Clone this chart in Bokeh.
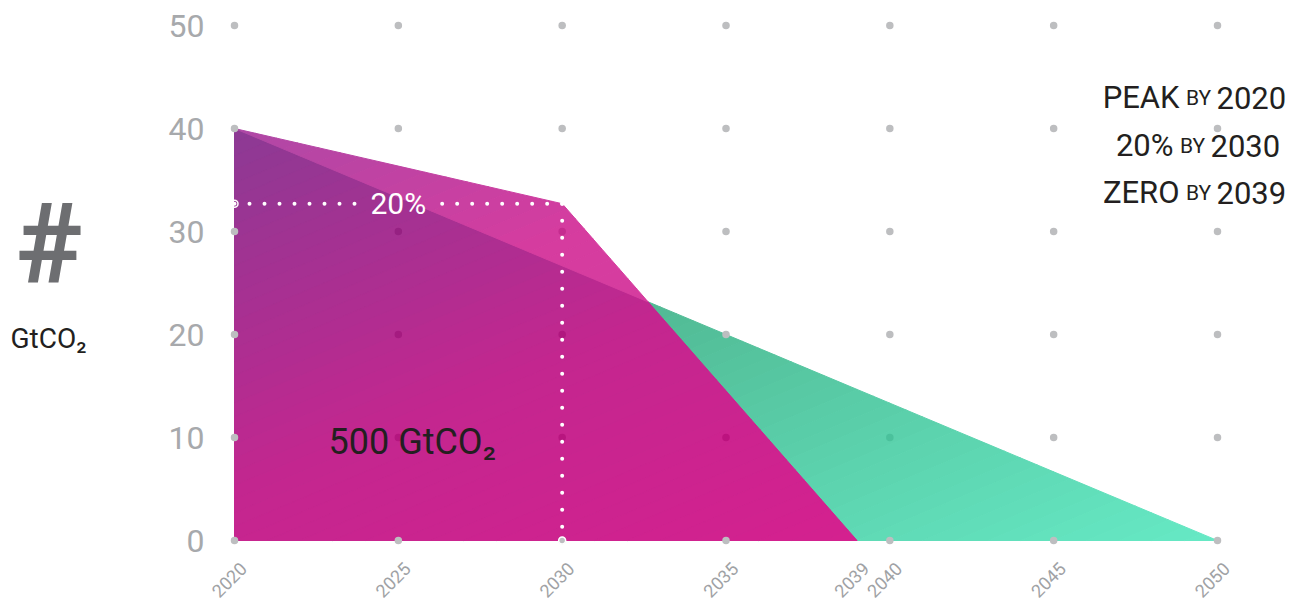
import math
from bokeh.plotting import figure
from bokeh.models import Range1d
from bokeh.core.properties import value
from bokeh.embed import file_html
from bokeh.resources import INLINE

# ---------------- data ----------------
path_years = [2020, 2030, 2039]          # magenta pathway
path_values = [40, 32.7, 0]              # GtCO2
budget_years = [2020, 2050]              # green budget triangle
budget_values = [40, 0]
x_ticks = [2020, 2025, 2030, 2035, 2039, 2040, 2045, 2050]
x_tick_labels = [str(v) for v in x_ticks]
grid_x = [2020, 2025, 2030, 2035, 2040, 2045, 2050]
y_ticks = [0, 10, 20, 30, 40, 50]
y_tick_labels = [str(v) for v in y_ticks]
pct_label = "20%"
budget_label = "500 GtCO₂"
unit_label = "GtCO₂"
side_words = ["PEAK", "20%", "ZERO"]
side_by = ["BY", "BY", "BY"]
side_years = ["2020", "2030", "2039"]

FONT = value("Roboto")
GREY = "#A7A9AC"
DARK = "#231F20"

W, H = 1297, 605
# picture-pixel layout: 2020 -> x=234, 2050 -> x=1217 ; 0 -> y=540, 50 -> y=25
PXX = (1217 - 234) / 30.0
PXY = (540 - 25) / 50.0
x0 = 2020 - 234 / PXX
x1 = 2020 + (W - 234) / PXX
y0 = -(H - 540) / PXY
y1 = 540 / PXY

p = figure(width=W, height=H, output_backend="svg", toolbar_location=None,
           x_range=Range1d(x0, x1), y_range=Range1d(y0, y1),
           min_border_left=0, min_border_right=0, min_border_top=0, min_border_bottom=0)
p.outline_line_color = None
p.xgrid.visible = False
p.ygrid.visible = False
p.axis.visible = False
p.background_fill_color = "white"

def X(px):
    return 2020 + (px - 234) / PXX
def Y(py):
    return (540 - py) / PXY

# ---------------- gradient fills ----------------
xa, xb = budget_years[0], budget_years[-1]
ytop = budget_values[0]

def clip(poly, a, b, c):
    out = []
    n = len(poly)
    for i in range(n):
        P = poly[i]; Q = poly[(i + 1) % n]
        fp = a * P[0] + b * P[1] + c
        fq = a * Q[0] + b * Q[1] + c
        if fp >= 0:
            out.append(P)
        if (fp >= 0) != (fq >= 0):
            s = fp / (fp - fq)
            out.append((P[0] + s * (Q[0] - P[0]), P[1] + s * (Q[1] - P[1])))
    res = []
    for pt in out:
        if not res or math.hypot(pt[0] - res[-1][0], pt[1] - res[-1][1]) > 1e-9:
            res.append(pt)
    if len(res) > 1 and math.hypot(res[0][0] - res[-1][0], res[0][1] - res[-1][1]) <= 1e-9:
        res.pop()
    return res

def band(poly, t0, t1):
    a = 1.0 / (2 * (xb - xa)); b = -1.0 / (2 * ytop); c = -xa * a + 0.5
    q = clip(poly, a, b, c - t0)
    if len(q) < 3:
        return []
    return clip(q, -a, -b, -(c - t1))

def hexrgb(h):
    h = h.lstrip("#"); return [int(h[i:i + 2], 16) for i in (0, 2, 4)]

def ramp(stops, t):
    if t <= stops[0][0]:
        return hexrgb(stops[0][1])
    for (ta, ca), (tb, cb) in zip(stops[:-1], stops[1:]):
        if t <= tb:
            u = (t - ta) / (tb - ta)
            A, B = hexrgb(ca), hexrgb(cb)
            return [A[k] + (B[k] - A[k]) * u for k in range(3)]
    return hexrgb(stops[-1][1])

def tohex(c):
    return "#%02x%02x%02x" % tuple(max(0, min(255, int(round(v)))) for v in c)

green_stops = [(0.0, "#3FA482"), (0.4, "#50B892"), (1.0, "#66E9C5")]
mag_green_stops = [(0.0, "#8C3A94"), (0.45, "#C4268F"), (0.85, "#D6208F")]
mag_white_stops = [(0.0, "#AE48A6"), (0.3, "#D63C9F")]

green_poly = [(budget_years[0], 0), (budget_years[0], budget_values[0]), (budget_years[1], budget_values[1])]
mag_poly = [(path_years[0], 0)] + list(zip(path_years, path_values))

slope = (budget_values[1] - budget_values[0]) / (budget_years[1] - budget_years[0])
mag_in_green = clip(mag_poly, slope, -1, budget_values[0] - slope * xa)
mag_out_green = clip(mag_poly, -slope, 1, -(budget_values[0] - slope * xa))

N = 60
def draw_gradient(poly, stops):
    xs, ys, cols = [], [], []
    for i in range(N):
        t0, t1 = i / N, (i + 1) / N
        q = band(poly, t0, t1)
        if len(q) >= 3:
            xs.append([v[0] for v in q]); ys.append([v[1] for v in q])
            cols.append(tohex(ramp(stops, (t0 + t1) / 2)))
    p.patches(xs, ys, fill_color=cols, line_color=cols, line_width=1)

draw_gradient(green_poly, green_stops)
draw_gradient(mag_in_green, mag_green_stops)
draw_gradient(mag_out_green, mag_white_stops)

# ---------------- grid dots ----------------
def tpar(x, y):
    return ((x - xa) / (xb - xa) + (ytop - y) / ytop) / 2

def inside(poly, x, y, eps=0.3):
    n = len(poly); sgn = None
    if n < 3:
        return False
    for i in range(n):
        P = poly[i]; Q = poly[(i + 1) % n]
        L = math.hypot(Q[0] - P[0], Q[1] - P[1])
        if L < 1e-9:
            continue
        cr = (Q[0] - P[0]) * (y - P[1]) - (Q[1] - P[1]) * (x - P[0])
        d = cr / L
        if abs(d) < eps:
            return False
        s = d > 0
        if sgn is None:
            sgn = s
        elif s != sgn:
            return False
    return True

gx, gy, gc = [], [], []
for xv in grid_x:
    for yv in y_ticks:
        t = tpar(xv, yv)
        if inside(mag_in_green, xv, yv):
            base = ramp(mag_green_stops, t)
        elif inside(mag_out_green, xv, yv):
            base = ramp(mag_white_stops, t)
        elif inside(green_poly, xv, yv):
            base = ramp(green_stops, t)
        else:
            base = None
        gx.append(xv); gy.append(yv)
        gc.append("#BDBEC0" if base is None else tohex([v - 16 for v in base]))
p.scatter(gx, gy, size=7.5, fill_color=gc, line_color=None)

# ---------------- white dotted guides ----------------
v2030 = path_values[1]
lab_x = (path_years[0] + path_years[1]) / 2
gap = 1.25
p.line([path_years[0], lab_x - gap], [v2030, v2030], line_color="white", line_width=4,
       line_dash="0 15", line_cap="round")
p.line([path_years[1], lab_x + gap], [v2030, v2030], line_color="white", line_width=4,
       line_dash="0 15", line_cap="round")
p.line([path_years[1], path_years[1]], [v2030, 0], line_color="white", line_width=4,
       line_dash="0 17", line_cap="round")
p.scatter([path_years[0], path_years[1]], [v2030, 0], size=7, fill_color=None,
          line_color="white", line_width=1.5)

p.text(x=[lab_x], y=[v2030], text=[pct_label], text_color="white", text_font=FONT,
       text_font_size="30px", text_align="center", text_baseline="middle")
p.text(x=[X(328)], y=[Y(441)], text=[budget_label], text_color=DARK, text_font=FONT,
       text_font_size="36px", text_align="left", text_baseline="middle")

# ---------------- axis tick labels ----------------
p.text(x=[X(204)] * len(y_ticks), y=y_ticks, text=y_tick_labels, text_color=GREY,
       text_font=FONT, text_font_size="32px", text_align="right", text_baseline="middle")
p.text(x=[t + 9 / PXX for t in x_ticks], y=[Y(565)] * len(x_ticks), text=x_tick_labels,
       angle=math.pi / 4, text_color="#A0A2A5", text_font=FONT, text_font_size="18px",
       text_align="right", text_baseline="middle")

# ---------------- left titles ----------------
p.text(x=[X(49)], y=[Y(243)], text=["#"], text_color="#6D6E71", text_font=FONT,
       text_font_style="bold", text_font_size="112px", text_align="center",
       text_baseline="middle")
p.text(x=[X(48)], y=[Y(338)], text=[unit_label], text_color=DARK, text_font=FONT,
       text_font_size="28px", text_align="center", text_baseline="middle")

# ---------------- right side text ----------------
baselines = [97, 145, 192]
by_centers = [1198, 1192, 1198]
p.text(x=[X(c - 19) for c in by_centers], y=[Y(b) for b in baselines], text=side_words,
       text_color=DARK, text_font=FONT, text_font_size="31px", text_align="right",
       text_baseline="alphabetic")
p.text(x=[X(c) for c in by_centers], y=[Y(b) for b in baselines], text=side_by,
       text_color=DARK, text_font=FONT, text_font_size="21px", text_align="center",
       text_baseline="alphabetic")
p.text(x=[X(c + 18) for c in by_centers], y=[Y(b) for b in baselines], text=side_years,
       text_color=DARK, text_font=FONT, text_font_size="31px", text_align="left",
       text_baseline="alphabetic")

open("out.html", "w").write(file_html(p, INLINE))
